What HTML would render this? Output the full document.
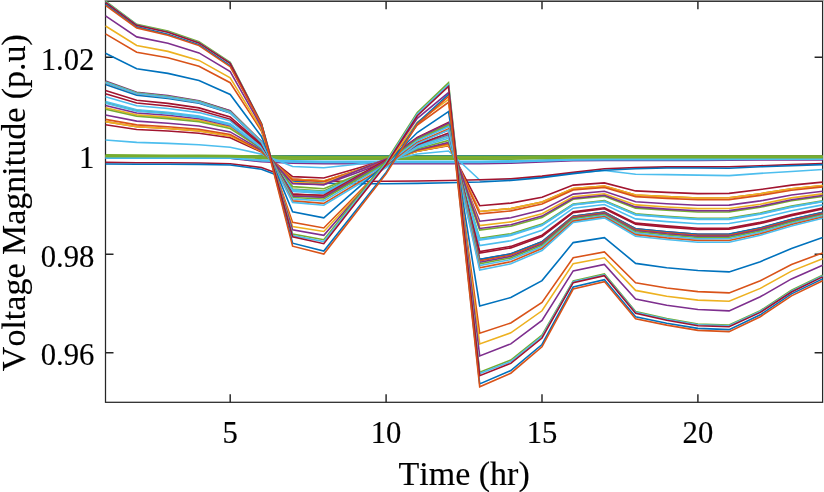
<!DOCTYPE html>
<html><head><meta charset="utf-8"><title>Voltage Magnitude</title>
<style>html,body{margin:0;padding:0;background:#fff}svg{display:block}text{font-family:"Liberation Serif","Times New Roman",serif;fill:#000;stroke:#000;stroke-width:0.15px;font-kerning:none}</style></head>
<body>
<svg width="824" height="492" viewBox="0 0 824 492">
<rect x="0" y="0" width="824" height="492" fill="#fff"/>
<rect x="104.5" y="0" width="719.5" height="0.8" fill="#b4b4b4"/>
<g stroke="#262626" stroke-width="1.25" fill="none">
<rect x="105.5" y="1.3" width="717.1" height="401.0"/>
<path stroke-width="1.45" d="M230.2 402.3v-8.0M230.2 1.3v8.0M386.1 402.3v-8.0M386.1 1.3v8.0M542.0 402.3v-8.0M542.0 1.3v8.0M697.9 402.3v-8.0M697.9 1.3v8.0M105.5 352.8h8.0M822.6 352.8h-8.0M105.5 254.3h8.0M822.6 254.3h-8.0M105.5 155.8h8.0M822.6 155.8h-8.0M105.5 57.3h8.0M822.6 57.3h-8.0"/>
</g>
<defs><clipPath id="c"><rect x="105.2" y="1.0" width="717.8" height="401.6"/></clipPath></defs>
<g clip-path="url(#c)" fill="none" stroke-width="1.60" stroke-linejoin="miter" stroke-linecap="butt">
<polyline stroke="#0072BD" points="105.5,155.8 136.7,155.8 167.9,155.8 199.0,155.8 230.2,155.8 261.4,155.8 292.6,155.8 323.8,155.8 354.9,155.8 386.1,155.8 417.3,155.8 448.5,155.8 479.7,155.8 510.8,155.8 542.0,155.8 573.2,155.8 604.4,155.8 635.6,155.8 666.7,155.8 697.9,155.8 729.1,155.8 760.3,155.8 791.5,155.8 822.6,155.8"/>
<polyline stroke="#D95319" points="105.5,156.1 136.7,156.1 167.9,156.1 199.0,156.1 230.2,156.1 261.4,156.6 292.6,156.7 323.8,156.8 354.9,156.8 386.1,156.8 417.3,156.8 448.5,156.8 479.7,156.8 510.8,156.7 542.0,156.6 573.2,156.4 604.4,156.4 635.6,156.4 666.7,156.4 697.9,156.4 729.1,156.3 760.3,156.3 791.5,156.3 822.6,156.3"/>
<polyline stroke="#EDB120" points="105.5,156.4 136.7,156.4 167.9,156.4 199.0,156.4 230.2,156.5 261.4,157.3 292.6,157.7 323.8,157.8 354.9,157.8 386.1,157.8 417.3,157.8 448.5,157.8 479.7,157.8 510.8,157.7 542.0,157.4 573.2,157.0 604.4,157.0 635.6,157.0 666.7,157.0 697.9,157.0 729.1,156.9 760.3,156.8 791.5,156.8 822.6,156.8"/>
<polyline stroke="#7E2F8E" points="105.5,158.1 136.7,158.1 167.9,158.1 199.0,158.1 230.2,158.1 261.4,161.8 292.6,163.2 323.8,163.8 354.9,163.8 386.1,163.8 417.3,163.8 448.5,163.8 479.7,163.8 510.8,163.2 542.0,162.0 573.2,160.7 604.4,160.4 635.6,160.4 666.7,160.4 697.9,160.4 729.1,160.1 760.3,160.0 791.5,160.0 822.6,160.0"/>
<polyline stroke="#0072BD" points="105.5,158.2 136.7,158.2 167.9,158.2 199.0,158.2 230.2,158.2 261.4,160.5 292.6,161.6 323.8,162.0 354.9,162.0 386.1,162.0 417.3,162.0 448.5,162.0 479.7,162.0 510.8,161.6 542.0,160.6 573.2,159.6 604.4,159.4 635.6,159.4 666.7,159.4 697.9,159.4 729.1,159.1 760.3,159.0 791.5,159.0 822.6,159.0"/>
<polyline stroke="#4DBEEE" points="105.5,157.7 136.7,157.7 167.9,157.7 199.0,157.7 230.2,157.7 261.4,159.9 292.6,160.9 323.8,161.3 354.9,161.3 386.1,161.3 417.3,161.3 448.5,161.3 479.7,161.3 510.8,160.9 542.0,160.1 573.2,159.2 604.4,159.0 635.6,159.0 666.7,159.0 697.9,159.0 729.1,158.8 760.3,158.7 791.5,158.7 822.6,158.7"/>
<polyline stroke="#4DBEEE" points="105.5,158.0 136.7,158.0 167.9,158.0 199.0,158.0 230.2,158.0 261.4,160.8 292.6,162.0 323.8,162.5 354.9,162.5 386.1,162.5 417.3,162.5 448.5,162.5 479.7,162.5 510.8,162.0 542.0,161.0 573.2,159.9 604.4,159.7 635.6,159.7 666.7,159.7 697.9,159.7 729.1,159.4 760.3,159.3 791.5,159.3 822.6,159.3"/>
<polyline stroke="#77AC30" points="105.5,154.7 136.7,155.0 167.9,155.3 199.0,155.4 230.2,155.6 261.4,156.0 292.6,156.2 323.8,156.2 354.9,156.2 386.1,156.2 417.3,156.2 448.5,156.2 479.7,156.2 510.8,156.2 542.0,156.1 573.2,156.0 604.4,156.0 635.6,156.0 666.7,156.0 697.9,156.0 729.1,156.0 760.3,156.0 791.5,156.0 822.6,156.0"/>
<polyline stroke="#77AC30" points="105.5,155.9 136.7,155.9 167.9,156.0 199.0,156.0 230.2,156.1 261.4,156.7 292.6,156.9 323.8,157.0 354.9,157.0 386.1,157.0 417.3,157.0 448.5,157.0 479.7,157.0 510.8,156.9 542.0,156.7 573.2,156.5 604.4,156.5 635.6,156.5 666.7,156.5 697.9,156.5 729.1,156.4 760.3,156.4 791.5,156.4 822.6,156.4"/>
<polyline stroke="#77AC30" points="105.5,156.5 136.7,156.5 167.9,156.5 199.0,156.5 230.2,156.6 261.4,157.6 292.6,158.0 323.8,158.2 354.9,158.2 386.1,158.2 417.3,158.2 448.5,158.2 479.7,158.2 510.8,158.0 542.0,157.7 573.2,157.3 604.4,157.2 635.6,157.2 666.7,157.2 697.9,157.2 729.1,157.1 760.3,157.0 791.5,157.0 822.6,157.0"/>
<polyline stroke="#77AC30" points="105.5,156.4 136.7,156.4 167.9,156.4 199.0,156.4 230.2,156.4 261.4,158.4 292.6,159.1 323.8,159.3 354.9,159.3 386.1,159.3 417.3,159.3 448.5,159.3 479.7,159.3 510.8,159.1 542.0,158.5 573.2,157.9 604.4,157.8 635.6,157.8 666.7,157.8 697.9,157.8 729.1,157.7 760.3,157.6 791.5,157.6 822.6,157.6"/>
<polyline stroke="#4DBEEE" points="105.5,140.0 136.7,142.4 167.9,143.4 199.0,144.8 230.2,147.2 261.4,154.1 292.6,166.5 323.8,167.8 354.9,164.5 386.1,160.5 417.3,154.0 448.5,151.0 479.7,180.0 510.8,179.5 542.0,177.0 573.2,173.0 604.4,170.5 635.6,174.2 666.7,174.6 697.9,175.1 729.1,175.6 760.3,173.4 791.5,171.5 822.6,169.5"/>
<polyline stroke="#A2142F" points="105.5,162.4 136.7,162.7 167.9,162.8 199.0,163.0 230.2,163.7 261.4,167.5 292.6,179.0 323.8,181.0 354.9,181.5 386.1,181.2 417.3,181.0 448.5,180.5 479.7,179.8 510.8,178.7 542.0,176.1 573.2,172.4 604.4,168.8 635.6,167.6 666.7,166.9 697.9,166.9 729.1,166.8 760.3,165.8 791.5,164.6 822.6,163.6"/>
<polyline stroke="#0072BD" points="105.5,164.0 136.7,164.2 167.9,164.3 199.0,164.4 230.2,165.0 261.4,169.3 292.6,181.0 323.8,183.2 354.9,183.8 386.1,183.7 417.3,183.4 448.5,182.8 479.7,182.0 510.8,180.5 542.0,177.6 573.2,173.6 604.4,170.2 635.6,168.8 666.7,168.0 697.9,168.0 729.1,168.3 760.3,166.8 791.5,165.8 822.6,164.6"/>
<polyline stroke="#A2142F" points="105.5,124.8 136.7,129.5 167.9,131.0 199.0,133.2 230.2,137.7 261.4,152.0 292.6,176.6 323.8,178.0 354.9,169.0 386.1,160.0 417.3,151.3 448.5,145.8 479.7,205.7 510.8,203.1 542.0,197.2 573.2,185.1 604.4,182.9 635.6,190.9 666.7,192.4 697.9,193.6 729.1,193.4 760.3,189.5 791.5,185.1 822.6,182.1"/>
<polyline stroke="#D95319" points="105.5,121.6 136.7,126.7 167.9,128.5 199.0,130.9 230.2,135.9 261.4,151.4 292.6,179.2 323.8,180.9 354.9,171.0 386.1,161.1 417.3,151.2 448.5,145.1 479.7,211.5 510.8,208.6 542.0,202.0 573.2,188.5 604.4,186.0 635.6,195.0 666.7,196.6 697.9,198.0 729.1,197.8 760.3,193.7 791.5,188.8 822.6,185.5"/>
<polyline stroke="#EDB120" points="105.5,121.6 136.7,126.7 167.9,128.5 199.0,130.9 230.2,135.9 261.4,151.4 292.6,179.2 323.8,180.9 354.9,171.0 386.1,161.1 417.3,151.2 448.5,145.1 479.7,211.5 510.8,208.6 542.0,202.0 573.2,188.5 604.4,186.0 635.6,195.0 666.7,196.6 697.9,198.0 729.1,197.8 760.3,193.7 791.5,188.8 822.6,185.5"/>
<polyline stroke="#D95319" points="105.5,119.4 136.7,124.9 167.9,126.7 199.0,129.2 230.2,134.5 261.4,150.9 292.6,179.9 323.8,181.5 354.9,171.2 386.1,160.9 417.3,150.3 448.5,143.7 479.7,213.9 510.8,210.9 542.0,204.0 573.2,189.9 604.4,187.4 635.6,196.6 666.7,198.4 697.9,199.8 729.1,199.6 760.3,195.4 791.5,190.3 822.6,186.9"/>
<polyline stroke="#7E2F8E" points="105.5,115.0 136.7,121.1 167.9,123.2 199.0,126.0 230.2,131.9 261.4,150.0 292.6,183.0 323.8,184.8 354.9,173.5 386.1,162.1 417.3,149.7 448.5,142.4 479.7,221.2 510.8,217.8 542.0,210.1 573.2,194.1 604.4,191.3 635.6,201.8 666.7,203.7 697.9,205.3 729.1,205.1 760.3,200.9 791.5,195.0 822.6,191.2"/>
<polyline stroke="#EDB120" points="105.5,107.7 136.7,114.9 167.9,117.1 199.0,120.4 230.2,126.9 261.4,148.6 292.6,182.6 323.8,183.6 354.9,171.3 386.1,159.0 417.3,145.0 448.5,135.6 479.7,225.6 510.8,221.9 542.0,213.7 573.2,196.7 604.4,193.7 635.6,204.9 666.7,207.0 697.9,208.6 729.1,208.5 760.3,204.2 791.5,197.9 822.6,193.9"/>
<polyline stroke="#77AC30" points="105.5,102.4 136.7,110.4 167.9,113.0 199.0,116.7 230.2,124.2 261.4,147.5 292.6,189.1 323.8,191.0 354.9,176.9 386.1,162.9 417.3,146.3 448.5,136.3 479.7,238.2 510.8,233.8 542.0,224.1 573.2,204.0 604.4,200.6 635.6,213.8 666.7,216.2 697.9,218.2 729.1,218.0 760.3,213.0 791.5,206.0 822.6,200.8"/>
<polyline stroke="#77AC30" points="105.5,109.3 136.7,116.3 167.9,118.6 199.0,121.8 230.2,128.5 261.4,148.9 292.6,186.6 323.8,188.7 354.9,176.0 386.1,163.2 417.3,148.8 448.5,140.4 479.7,230.1 510.8,226.2 542.0,217.4 573.2,199.3 604.4,196.2 635.6,208.1 666.7,210.3 697.9,212.0 729.1,211.9 760.3,207.3 791.5,200.8 822.6,196.4"/>
<polyline stroke="#7E2F8E" points="105.5,105.5 136.7,113.0 167.9,115.3 199.0,118.8 230.2,125.6 261.4,148.1 292.6,183.6 323.8,184.6 354.9,171.8 386.1,159.1 417.3,144.4 448.5,134.4 479.7,228.5 510.8,224.7 542.0,216.1 573.2,198.4 604.4,195.3 635.6,206.9 666.7,209.1 697.9,210.8 729.1,210.6 760.3,206.2 791.5,199.7 822.6,195.5"/>
<polyline stroke="#4DBEEE" points="105.5,103.3 136.7,111.2 167.9,113.8 199.0,117.4 230.2,125.0 261.4,147.7 292.6,190.3 323.8,192.6 354.9,178.5 386.1,164.4 417.3,147.7 448.5,138.2 479.7,239.3 510.8,234.8 542.0,225.1 573.2,204.6 604.4,201.2 635.6,214.5 666.7,217.0 697.9,219.0 729.1,218.8 760.3,213.8 791.5,206.7 822.6,201.4"/>
<polyline stroke="#4DBEEE" points="105.5,101.5 136.7,109.7 167.9,112.3 199.0,116.1 230.2,123.7 261.4,147.3 292.6,189.9 323.8,191.9 354.9,177.6 386.1,163.3 417.3,146.3 448.5,136.3 479.7,240.0 510.8,235.5 542.0,225.6 573.2,205.0 604.4,201.5 635.6,215.0 666.7,217.5 697.9,219.5 729.1,219.4 760.3,214.3 791.5,207.2 822.6,201.8"/>
<polyline stroke="#4DBEEE" points="105.5,96.8 136.7,105.7 167.9,108.5 199.0,112.6 230.2,120.8 261.4,146.0 292.6,191.6 323.8,193.5 354.9,178.3 386.1,163.1 417.3,144.6 448.5,133.5 479.7,245.5 510.8,240.7 542.0,230.2 573.2,208.2 604.4,204.5 635.6,218.9 666.7,221.6 697.9,223.7 729.1,223.5 760.3,218.2 791.5,210.8 822.6,204.9"/>
<polyline stroke="#A2142F" points="105.5,93.7 136.7,103.0 167.9,106.0 199.0,110.3 230.2,119.1 261.4,145.1 292.6,194.4 323.8,196.6 354.9,180.5 386.1,164.5 417.3,144.7 448.5,133.1 479.7,251.5 510.8,246.4 542.0,235.2 573.2,211.7 604.4,207.8 635.6,223.1 666.7,225.9 697.9,228.2 729.1,228.1 760.3,222.4 791.5,214.6 822.6,208.1"/>
<polyline stroke="#A2142F" points="105.5,90.5 136.7,100.3 167.9,103.4 199.0,107.9 230.2,116.9 261.4,144.1 292.6,194.0 323.8,195.7 354.9,179.3 386.1,162.9 417.3,142.5 448.5,129.9 479.7,253.1 510.8,247.9 542.0,236.5 573.2,212.6 604.4,208.7 635.6,224.3 666.7,227.1 697.9,229.4 729.1,229.3 760.3,223.5 791.5,215.6 822.6,209.0"/>
<polyline stroke="#A2142F" points="105.5,81.8 136.7,92.9 167.9,96.2 199.0,101.3 230.2,111.0 261.4,141.7 292.6,194.4 323.8,195.3 354.9,177.6 386.1,159.9 417.3,137.4 448.5,122.4 479.7,259.5 510.8,253.9 542.0,241.8 573.2,216.3 604.4,212.1 635.6,228.8 666.7,231.8 697.9,234.3 729.1,234.2 760.3,228.0 791.5,219.5 822.6,212.5"/>
<polyline stroke="#0072BD" points="105.5,84.4 136.7,95.1 167.9,98.4 199.0,103.3 230.2,112.9 261.4,142.3 292.6,195.6 323.8,197.0 354.9,179.5 386.1,162.0 417.3,139.8 448.5,125.7 479.7,259.4 510.8,253.8 542.0,241.7 573.2,216.3 604.4,212.1 635.6,228.7 666.7,231.7 697.9,234.2 729.1,234.1 760.3,227.9 791.5,219.4 822.6,212.4"/>
<polyline stroke="#D95319" points="105.5,82.3 136.7,93.3 167.9,96.6 199.0,101.7 230.2,111.5 261.4,141.8 292.6,195.6 323.8,196.8 354.9,179.0 386.1,161.2 417.3,138.5 448.5,123.8 479.7,260.8 510.8,255.1 542.0,242.9 573.2,217.1 604.4,212.8 635.6,229.7 666.7,232.8 697.9,235.3 729.1,235.2 760.3,228.9 791.5,220.3 822.6,213.2"/>
<polyline stroke="#7E2F8E" points="105.5,81.0 136.7,92.2 167.9,95.6 199.0,100.8 230.2,110.7 261.4,141.6 292.6,196.1 323.8,197.2 354.9,179.1 386.1,161.1 417.3,138.1 448.5,123.1 479.7,262.3 510.8,256.5 542.0,244.1 573.2,217.9 604.4,213.7 635.6,230.7 666.7,233.9 697.9,236.4 729.1,236.3 760.3,229.9 791.5,221.2 822.6,214.0"/>
<polyline stroke="#77AC30" points="105.5,81.7 136.7,92.8 167.9,96.2 199.0,101.4 230.2,111.4 261.4,141.7 292.6,197.5 323.8,199.0 354.9,180.8 386.1,162.7 417.3,139.5 448.5,124.9 479.7,263.8 510.8,257.9 542.0,245.3 573.2,218.8 604.4,214.5 635.6,231.8 666.7,235.0 697.9,237.5 729.1,237.4 760.3,231.0 791.5,222.1 822.6,214.8"/>
<polyline stroke="#4DBEEE" points="105.5,82.2 136.7,93.2 167.9,96.7 199.0,101.8 230.2,111.9 261.4,141.8 292.6,199.0 323.8,200.9 354.9,182.6 386.1,164.3 417.3,140.8 448.5,126.7 479.7,265.6 510.8,259.6 542.0,246.8 573.2,219.9 604.4,215.5 635.6,233.1 666.7,236.3 697.9,238.9 729.1,238.8 760.3,232.2 791.5,223.2 822.6,215.8"/>
<polyline stroke="#D95319" points="105.5,82.9 136.7,93.8 167.9,97.4 199.0,102.4 230.2,112.6 261.4,141.9 292.6,200.9 323.8,203.4 354.9,184.8 386.1,166.3 417.3,142.6 448.5,128.9 479.7,267.8 510.8,261.7 542.0,248.6 573.2,221.1 604.4,216.7 635.6,234.6 666.7,237.9 697.9,240.5 729.1,240.5 760.3,233.8 791.5,224.5 822.6,217.0"/>
<polyline stroke="#4DBEEE" points="105.5,82.8 136.7,93.8 167.9,97.4 199.0,102.4 230.2,112.8 261.4,141.9 292.6,202.4 323.8,205.2 354.9,186.5 386.1,167.7 417.3,143.6 448.5,130.1 479.7,270.0 510.8,263.8 542.0,250.5 573.2,222.4 604.4,217.9 635.6,236.2 666.7,239.5 697.9,242.2 729.1,242.2 760.3,235.3 791.5,225.9 822.6,218.2"/>
<polyline stroke="#0072BD" points="105.5,53.3 136.7,68.7 167.9,73.4 199.0,80.5 230.2,94.4 261.4,136.5 292.6,211.9 323.8,217.8 354.9,190.7 386.1,163.6 417.3,132.5 448.5,111.6 479.7,305.9 510.8,297.5 542.0,280.6 573.2,242.6 604.4,237.6 635.6,263.4 666.7,267.7 697.9,270.5 729.1,271.9 760.3,261.7 791.5,248.5 822.6,237.5"/>
<polyline stroke="#D95319" points="105.5,33.9 136.7,52.2 167.9,57.8 199.0,66.2 230.2,82.7 261.4,131.0 292.6,222.4 323.8,228.0 354.9,196.2 386.1,164.4 417.3,125.0 448.5,102.3 479.7,333.2 510.8,323.0 542.0,302.4 573.2,257.8 604.4,251.9 635.6,282.8 666.7,288.0 697.9,291.6 729.1,292.9 760.3,280.8 791.5,264.6 822.6,252.9"/>
<polyline stroke="#EDB120" points="105.5,26.0 136.7,45.5 167.9,51.4 199.0,60.4 230.2,77.9 261.4,129.2 292.6,226.5 323.8,231.5 354.9,198.0 386.1,164.5 417.3,122.3 448.5,99.4 479.7,343.9 510.8,332.8 542.0,310.8 573.2,263.6 604.4,257.8 635.6,290.4 666.7,296.2 697.9,300.1 729.1,301.3 760.3,288.4 791.5,271.1 822.6,258.8"/>
<polyline stroke="#7E2F8E" points="105.5,15.9 136.7,36.9 167.9,43.2 199.0,52.9 230.2,71.6 261.4,126.8 292.6,229.8 323.8,235.3 354.9,199.5 386.1,163.6 417.3,118.3 448.5,92.6 479.7,356.0 510.8,343.9 542.0,320.5 573.2,270.9 604.4,264.4 635.6,299.1 666.7,305.3 697.9,309.5 729.1,310.9 760.3,296.8 791.5,278.9 822.6,265.2"/>
<polyline stroke="#77AC30" points="105.5,1.1 136.7,24.3 167.9,31.1 199.0,41.8 230.2,62.2 261.4,123.4 292.6,234.1 323.8,239.7 354.9,200.6 386.1,161.4 417.3,112.4 448.5,82.8 479.7,372.2 510.8,360.1 542.0,335.1 573.2,280.9 604.4,274.0 635.6,311.5 666.7,318.5 697.9,324.0 729.1,325.0 760.3,310.7 791.5,290.3 822.6,275.2"/>
<polyline stroke="#4DBEEE" points="105.5,2.0 136.7,25.0 167.9,31.9 199.0,42.6 230.2,63.0 261.4,123.6 292.6,235.5 323.8,241.5 354.9,202.2 386.1,162.9 417.3,113.9 448.5,84.8 479.7,373.6 510.8,361.5 542.0,336.3 573.2,281.7 604.4,274.8 635.6,312.3 666.7,319.3 697.9,324.8 729.1,325.8 760.3,311.5 791.5,291.1 822.6,276.0"/>
<polyline stroke="#0072BD" points="105.5,4.2 136.7,26.9 167.9,34.2 199.0,44.6 230.2,65.6 261.4,124.1 292.6,243.2 323.8,251.0 354.9,211.7 386.1,172.4 417.3,122.9 448.5,94.5 479.7,383.9 510.8,370.6 542.0,344.5 573.2,287.0 604.4,279.6 635.6,316.7 666.7,323.2 697.9,328.4 729.1,329.6 760.3,314.8 791.5,293.9 822.6,278.9"/>
<polyline stroke="#A2142F" points="105.5,2.3 136.7,25.3 167.9,32.3 199.0,42.9 230.2,63.4 261.4,123.7 292.6,236.8 323.8,243.7 354.9,204.1 386.1,164.5 417.3,115.7 448.5,86.5 479.7,375.7 510.8,363.4 542.0,338.0 573.2,282.6 604.4,275.7 635.6,313.2 666.7,320.2 697.9,325.7 729.1,326.7 760.3,312.4 791.5,292.0 822.6,276.9"/>
<polyline stroke="#D95319" points="105.5,5.3 136.7,27.9 167.9,35.2 199.0,45.6 230.2,66.7 261.4,124.4 292.6,246.2 323.8,254.0 354.9,213.9 386.1,173.9 417.3,124.3 448.5,96.5 479.7,386.8 510.8,373.2 542.0,346.8 573.2,289.0 604.4,281.6 635.6,318.7 666.7,325.1 697.9,330.4 729.1,331.6 760.3,316.7 791.5,295.9 822.6,280.8"/>
</g>
<g font-size="30.67px">
<text x="230.2" y="442.6" text-anchor="middle">5</text>
<text x="386.1" y="442.6" text-anchor="middle">10</text>
<text x="542.0" y="442.6" text-anchor="middle">15</text>
<text x="697.9" y="442.6" text-anchor="middle">20</text>
<text x="94.3" y="365.2" text-anchor="end">0.96</text>
<text x="94.3" y="266.7" text-anchor="end">0.98</text>
<text x="94.3" y="168.2" text-anchor="end">1</text>
<text x="94.3" y="69.7" text-anchor="end">1.02</text>
</g>
<text x="464.1" y="484.5" font-size="34px" text-anchor="middle">Time (hr)</text>
<text transform="translate(25,202.6) rotate(-90)" font-size="34px" text-anchor="middle">Voltage Magnitude (p.u)</text>
</svg>
</body></html>
